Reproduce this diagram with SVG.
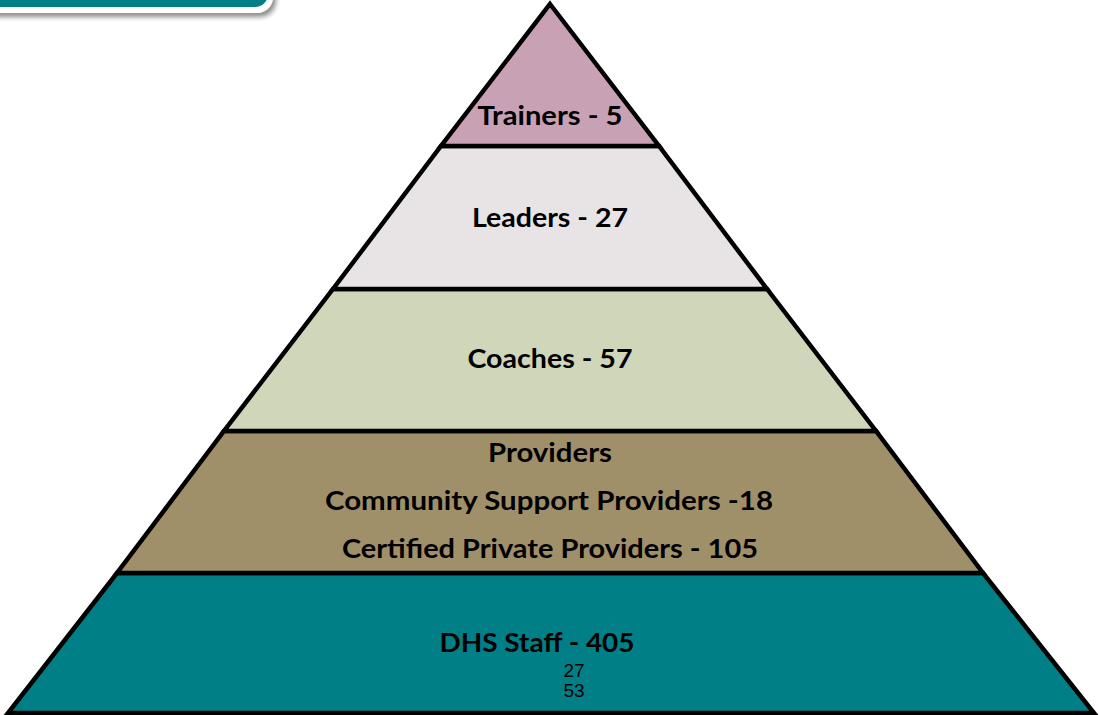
<svg xmlns="http://www.w3.org/2000/svg" width="1099" height="715" viewBox="0 0 1099 715">
<defs>
<style>
.lbl{font-family:Lato,"Liberation Sans",sans-serif;font-weight:bold;font-size:27.5px;fill:#000;text-anchor:middle}
.num{font-family:"Liberation Sans",Arial,sans-serif;font-size:19px;fill:#000;text-anchor:middle}
.band{stroke:#000;stroke-width:4.5;stroke-linejoin:miter}
</style>
<filter id="sh" x="-10%" y="-50%" width="120%" height="200%">
<feGaussianBlur in="SourceAlpha" stdDeviation="2.5"/>
<feOffset dx="3" dy="4" result="b"/>
<feComponentTransfer><feFuncA type="linear" slope="0.45"/></feComponentTransfer>
<feMerge><feMergeNode/><feMergeNode in="SourceGraphic"/></feMerge>
</filter>
</defs>
<rect x="0" y="0" width="1099" height="715" fill="#fff"/>
<g id="banner">
<rect x="-30" y="-60" width="303" height="73" rx="16" fill="#fff" filter="url(#sh)"/>
<rect x="-30" y="-60" width="298" height="67" rx="13" fill="#007F86"/>
</g>
<g id="connectors"></g>
<g id="dhs-staff">
<polygon class="band" points="117,573 983,573 1094,713 8,713" fill="#007F86"/>
<text class="lbl" x="537" y="652" textLength="195" lengthAdjust="spacingAndGlyphs">DHS Staff - 405</text>
<text class="num" x="574" y="677">27</text>
<text class="num" x="574" y="697">53</text>
</g>
<g id="providers">
<polygon class="band" points="224,431 876,431 983,573 117,573" fill="#A0906A"/>
<text class="lbl" x="550" y="462" textLength="124" lengthAdjust="spacingAndGlyphs">Providers</text>
<text class="lbl" x="549" y="510" textLength="448" lengthAdjust="spacingAndGlyphs">Community Support Providers -18</text>
<text class="lbl" x="550" y="558" textLength="416" lengthAdjust="spacingAndGlyphs">Certified Private Providers - 105</text>
</g>
<g id="coaches">
<polygon class="band" points="333,289 767,289 876,431 224,431" fill="#D0D6BA"/>
<text class="lbl" x="550" y="368" textLength="165" lengthAdjust="spacingAndGlyphs">Coaches - 57</text>
</g>
<g id="leaders">
<polygon class="band" points="441,146 659,146 767,289 333,289" fill="#E8E4E5"/>
<text class="lbl" x="550" y="227" textLength="156" lengthAdjust="spacingAndGlyphs">Leaders - 27</text>
</g>
<g id="trainers">
<polygon class="band" points="550,4 659,146 441,146" fill="#C9A1B5"/>
<text class="lbl" x="550" y="125" textLength="145" lengthAdjust="spacingAndGlyphs">Trainers - 5</text>
</g>
</svg>
